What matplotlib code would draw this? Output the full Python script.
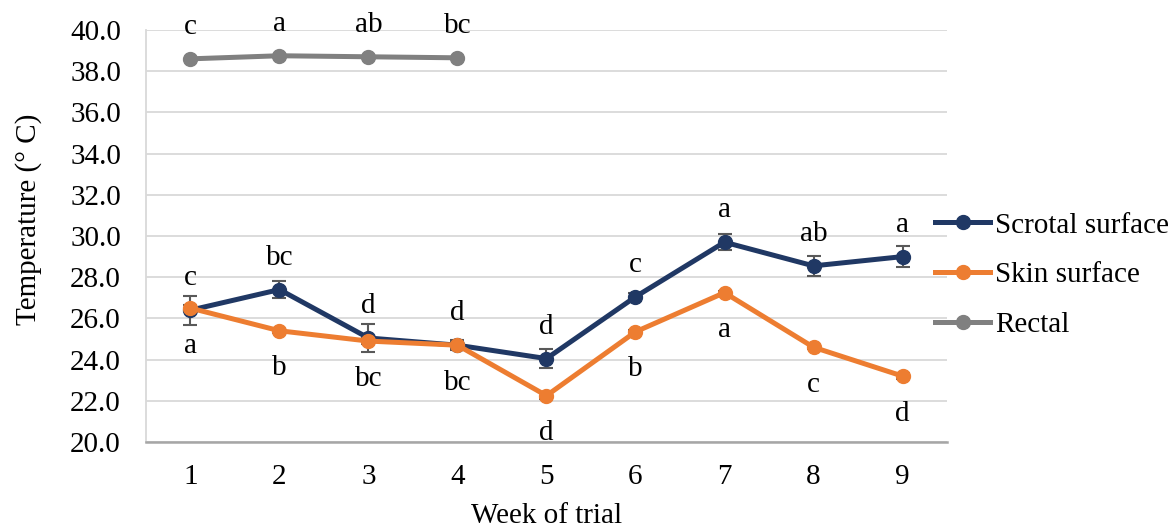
import matplotlib.pyplot as plt
from matplotlib.lines import Line2D

plt.rcParams['font.family'] = ['Liberation Serif', 'DejaVu Serif']

# Weekly temperatures (deg C)
weeks = [1, 2, 3, 4, 5, 6, 7, 8, 9]
scrotal = [26.4, 27.4, 25.05, 24.7, 24.05, 27.05, 29.7, 28.55, 29.0]
scrotal_err = [0.7, 0.4, 0.7, 0.25, 0.45, 0.2, 0.4, 0.5, 0.5]
skin = [26.5, 25.4, 24.9, 24.7, 22.25, 25.35, 27.25, 24.6, 23.2]
skin_err = [0.15, 0.1, 0.15, 0.15, 0.15, 0.1, 0.1, 0.1, 0.15]
rectal_weeks = [1, 2, 3, 4]
rectal = [38.6, 38.75, 38.7, 38.65]

# Significance letters
scrotal_letters = ['c', 'bc', 'd', 'd', 'd', 'c', 'a', 'ab', 'a']
skin_letters = ['a', 'b', 'bc', 'bc', 'd', 'b', 'a', 'c', 'd']
rectal_letters = ['c', 'a', 'ab', 'bc']

navy = '#203864'
orange = '#ed7d31'
grey = '#808080'
fs = 21

fig = plt.figure(figsize=(11.76, 5.30), dpi=100)
ax = fig.add_axes([0.1241, 0.166, 0.6812, 0.7774])

ax.errorbar(weeks, scrotal, yerr=scrotal_err, color=navy, lw=3.6, marker='o',
            ms=10, ecolor='#595959', elinewidth=1.5, capsize=5, capthick=1.5,
            zorder=3)
ax.errorbar(weeks, skin, yerr=skin_err, color=orange, lw=3.6, marker='o',
            ms=10, ecolor='#595959', elinewidth=1.5, capsize=5, capthick=1.5,
            zorder=4)
ax.plot(rectal_weeks, rectal, color=grey, lw=3.6, marker='o', ms=10, zorder=3)

for x, y, s in zip(weeks, scrotal, scrotal_letters):
    ax.annotate(s, (x, y), xytext=(0, 23), textcoords='offset points',
                ha='center', va='center', fontsize=fs)
for x, y, s in zip(weeks, skin, skin_letters):
    ax.annotate(s, (x, y), xytext=(0, -27), textcoords='offset points',
                ha='center', va='center', fontsize=fs)
for x, y, s in zip(rectal_weeks, rectal, rectal_letters):
    ax.annotate(s, (x, y), xytext=(0, 23), textcoords='offset points',
                ha='center', va='center', fontsize=fs)

ax.set_xlim(0.5, 9.5)
ax.set_ylim(20, 40)
ax.set_yticks([20 + 2 * i for i in range(11)])
ax.set_yticklabels([f'{20 + 2 * i:.1f}' for i in range(11)])
ax.set_xticks(weeks)
ax.tick_params(axis='y', length=0, labelsize=fs, pad=18)
ax.tick_params(axis='x', length=0, labelsize=fs, pad=16)
ax.grid(axis='y', color='#d9d9d9', lw=1.3)
ax.set_axisbelow(True)
for side in ['top', 'right']:
    ax.spines[side].set_visible(False)
ax.spines['left'].set_color('#d9d9d9')
ax.spines['left'].set_linewidth(1.3)
ax.spines['bottom'].set_color('#a6a6a6')
ax.spines['bottom'].set_linewidth(1.8)

ax.set_xlabel('Week of trial', fontsize=fs, labelpad=9)
ax.set_ylabel('Temperature (° C)', fontsize=fs)
ax.yaxis.set_label_coords(-0.13, 0.54)

handles = [Line2D([], [], color=c, lw=3.6, marker='o', ms=10)
           for c in (navy, orange, grey)]
ax.legend(handles, ['Scrotal surface', 'Skin surface', 'Rectal'],
          loc='center left', bbox_to_anchor=(0.985, 0.405), frameon=False,
          borderaxespad=0, borderpad=0,
          fontsize=fs, handlelength=1.9, handletextpad=0.15, labelspacing=0.8)

plt.savefig('out.png', dpi=100)
